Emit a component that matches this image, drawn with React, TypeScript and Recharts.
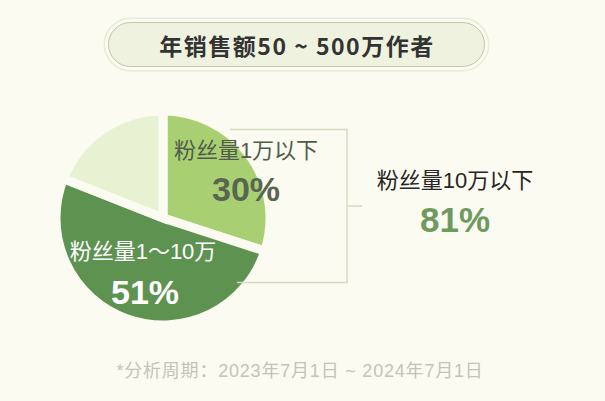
import React from 'react';
import { PieChart, Pie, Cell } from 'recharts';

const categories = ['粉丝量1万以下', '粉丝量1～10万', '粉丝量10万以上'];
const shares = [30, 51, 19];
const sliceColors = ['#a9cf73', '#5e9251', '#e6f2d1'];
const titleText = '年销售额50 ~ 500万作者';
const summaryLabel = '粉丝量10万以下';
const summaryValue = 81;
const footnote = '*分析周期：2023年7月1日 ~ 2024年7月1日';

const BG = '#fcfbf1';
const LATIN = '"Liberation Sans", "Noto Sans CJK SC", sans-serif';
const CJK = '"Noto Sans CJK SC", "Liberation Sans", sans-serif';

const data = categories.map((name, i) => ({ name, value: shares[i] }));

const Label = ({ x, y, size, color, bold, children, font = LATIN, spacing = 0 }: any) => (
  <div
    style={{
      position: 'absolute',
      left: x,
      top: y,
      transform: 'translate(-50%, -50%)',
      fontSize: size,
      lineHeight: 1,
      color,
      fontWeight: bold ? 700 : 400,
      fontFamily: font,
      whiteSpace: 'nowrap',
      letterSpacing: spacing,
    }}
  >
    {children}
  </div>
);

export default function App() {
  return (
    <div style={{ position: 'absolute', left: 0, top: 0, width: 605, height: 401, background: BG, overflow: 'hidden' }}>
      <div
        style={{
          position: 'absolute',
          left: 108,
          top: 22,
          width: 377,
          height: 45,
          boxSizing: 'border-box',
          borderRadius: 23,
          border: '1.5px solid #bfc8a9',
          background: '#eef2df',
          boxShadow: `0 0 0 3px ${BG}, 0 0 0 4.5px #e7ebd7`,
        }}
      />
      <Label x={297} y={44.5} size={23} color="#333333" bold font={CJK} spacing={1.5}>
        {titleText}
      </Label>

      <div style={{ position: 'absolute', left: 0, top: 0 }}>
        <PieChart width={605} height={401}>
          <Pie
            data={data}
            dataKey="value"
            nameKey="name"
            cx={158}
            cy={213}
            innerRadius={0}
            outerRadius={107}
            startAngle={90}
            endAngle={-270}
            stroke={BG}
            strokeWidth={9}
            isAnimationActive={false}
          >
            {data.map((d, i) => (
              <Cell key={d.name} fill={sliceColors[i]} />
            ))}
          </Pie>
        </PieChart>
      </div>

      <svg width={605} height={401} style={{ position: 'absolute', left: 0, top: 0 }}>
        <polyline points="230,129.5 347,129.5 347,282.5 237,282.5" fill="none" stroke="#d3dcc1" strokeWidth={1.5} />
        <line x1={347} y1={206} x2={362} y2={206} stroke="#d3dcc1" strokeWidth={1.5} />
      </svg>

      <Label x={246} y={151} size={22} color="#505c4b">{categories[0]}</Label>
      <Label x={246} y={189} size={34} color="#58654f" bold>{`${shares[0]}%`}</Label>
      <Label x={143} y={252} size={22} color="#ffffff">{categories[1]}</Label>
      <Label x={145} y={292} size={34} color="#ffffff" bold>{`${shares[1]}%`}</Label>
      <Label x={455} y={181} size={22} color="#262626">{summaryLabel}</Label>
      <Label x={455} y={219} size={35} color="#6f9a5f" bold>{`${summaryValue}%`}</Label>
      <Label x={300} y={370.5} size={18} color="#c3c3bb" spacing={0.8}>{footnote}</Label>
    </div>
  );
}
